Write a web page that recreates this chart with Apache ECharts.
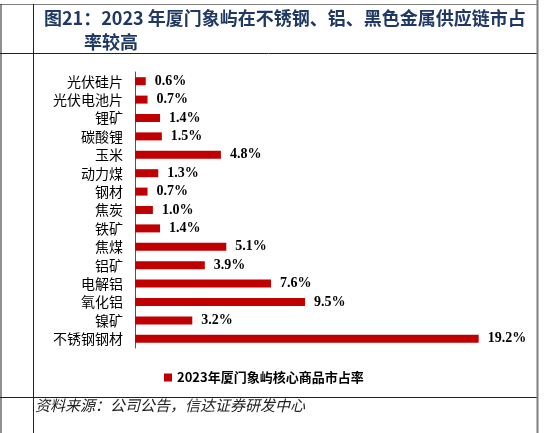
<!DOCTYPE html>
<html>
<head>
<meta charset="utf-8">
<script src="https://cdn.jsdelivr.net/npm/echarts@6/dist/echarts.min.js"></script>
<style>
	html,body{margin:0;padding:0;background:#fff}
	#chart{width:544px;height:433px}
</style>
</head>
<body>
<div id="chart"></div>
<script>
var categories = ['光伏硅片','光伏电池片','锂矿','碳酸锂','玉米','动力煤','钢材','焦炭','铁矿','焦煤','铝矿','电解铝','氧化铝','镍矿','不锈钢钢材'];
var shareValues = [0.6,0.7,1.4,1.5,4.8,1.3,0.7,1.0,1.4,5.1,3.9,7.6,9.5,3.2,19.2];
var seriesName = '2023年厦门象屿核心商品市占率';

var myChart = echarts.init(document.getElementById('chart'));
var border = {stroke:'#7f7f7f', lineWidth:1};
var titleFont = 'bold 18px "Noto Sans CJK SC"';
var option = {
	animation:false,
	legend:{
		data:[seriesName],
		left:159, top:366,
		icon:'rect', itemWidth:8, itemHeight:8, itemGap:4,
		textStyle:{fontFamily:'Noto Sans CJK SC', fontSize:13, fontWeight:'bold', color:'#000'}
	},
	grid:{left:135, right:51, top:72, bottom:85},
	xAxis:{
		type:'value', min:0, max:20, show:false
	},
	yAxis:{
		type:'category',
		data:categories,
		inverse:true,
		axisLine:{lineStyle:{color:'#555'}},
		axisTick:{length:4, lineStyle:{color:'#555'}},
		axisLabel:{fontFamily:'Noto Sans CJK SC', fontSize:14, color:'#000', margin:12}
	},
	series:[
		{
			name:seriesName,
			type:'bar',
			data:shareValues,
			barWidth:8,
			itemStyle:{color:'#c00000'},
			label:{
				show:true, position:'right', distance:9,
				fontFamily:'Liberation Serif', fontSize:14, fontWeight:'bold', color:'#000',
				formatter:function(p){return p.value.toFixed(1)+'%';}
			}
		}
	],
	graphic:[
		{type:'text', x:44, y:9, style:{text:'图21：2023 年厦门象屿在不锈钢、铝、黑色金属供应链市占', font:titleFont, fill:'#1f3864'}},
		{type:'text', x:84, y:33, style:{text:'率较高', font:titleFont, fill:'#1f3864'}},
		{type:'text', x:35, y:398, style:{text:'资料来源：公司公告，信达证券研发中心', font:'italic 15px "Noto Sans CJK SC"', fill:'#222'}},
		{type:'line', shape:{x1:0,y1:4.5,x2:537,y2:4.5}, style:border},
		{type:'line', shape:{x1:0,y1:53.5,x2:537,y2:53.5}, style:{stroke:'#222',lineWidth:1}},
		{type:'line', shape:{x1:0,y1:397.5,x2:537,y2:397.5}, style:{stroke:'#222',lineWidth:1}},
		{type:'line', shape:{x1:1,y1:4,x2:1,y2:433}, style:{stroke:'#222',lineWidth:1}},
		{type:'line', shape:{x1:33.5,y1:4,x2:33.5,y2:433}, style:{stroke:'#222',lineWidth:1}},
		{type:'line', shape:{x1:537.5,y1:0,x2:537.5,y2:433}, style:{stroke:'#7f7f7f',lineWidth:2}}
	]
};
myChart.setOption(option);
</script>
</body>
</html>
